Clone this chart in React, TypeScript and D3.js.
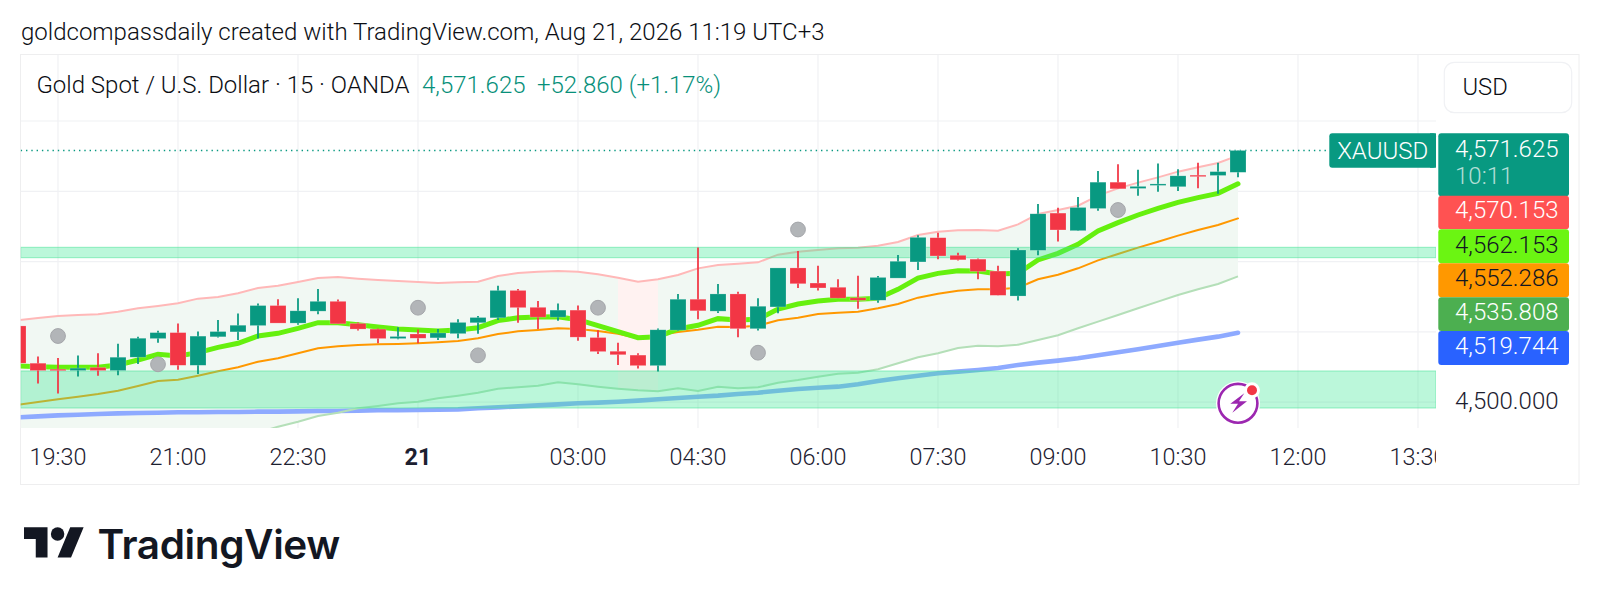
import React from "react";
import * as d3 from "d3";

const opens = [4521.7,4511.1,4509.4,4509.0,4509.9,4509.0,4512.8,4518.1,4519.8,4510.5,4518.6,4520.0,4521.8,4527.5,4522.5,4525.9,4528.7,4522.4,4520.8,4518.1,4519.4,4518.3,4519.5,4522.6,4524.0,4531.8,4527.0,4524.2,4526.2,4518.4,4514.5,4513.4,4510.4,4520.5,4529.3,4525.9,4530.8,4520.9,4527.1,4538.2,4533.9,4532.7,4529.7,4529.0,4535.3,4539.9,4546.8,4541.8,4540.7,4537.3,4530.2,4543.2,4553.8,4548.8,4555.1,4562.6,4560.8,4561.7,4561.3,4564.6,4564.5,4565.4];
const highs = [4521.7,4513.0,4512.6,4513.3,4513.9,4516.6,4518.6,4520.3,4522.4,4520.1,4523.4,4525.2,4528.1,4529.3,4529.6,4532.2,4529.2,4522.7,4521.0,4521.3,4520.7,4520.8,4523.6,4524.5,4533.1,4532.2,4528.8,4528.1,4527.5,4520.5,4516.9,4513.9,4521.0,4530.8,4544.0,4533.6,4531.4,4529.6,4538.2,4543.0,4538.8,4535.0,4536.0,4535.9,4541.9,4547.5,4548.2,4542.5,4540.9,4538.8,4543.8,4556.4,4555.3,4558.4,4565.8,4567.7,4566.1,4567.9,4566.3,4568.1,4568.1,4571.625];
const lows = [4511.1,4505.3,4502.5,4507.3,4507.5,4507.7,4510.9,4516.9,4509.2,4508.0,4518.4,4517.7,4518.1,4522.5,4522.0,4525.0,4522.3,4520.4,4516.8,4517.9,4516.8,4517.7,4518.2,4519.5,4523.4,4522.6,4520.8,4523.2,4517.5,4513.7,4510.6,4509.6,4508.7,4520.3,4523.6,4525.4,4518.5,4520.4,4525.3,4532.5,4531.8,4529.6,4526.6,4528.3,4535.3,4537.6,4540.7,4540.3,4535.0,4530.4,4528.9,4541.8,4545.7,4548.8,4554.5,4560.7,4558.7,4559.9,4560.1,4560.9,4559.3,4564.0];
const closes = [4511.1,4509.0,4509.0,4509.7,4509.0,4512.8,4518.2,4519.8,4510.5,4518.8,4520.1,4521.9,4527.5,4522.5,4526.0,4528.7,4522.3,4520.8,4518.1,4518.7,4518.2,4519.7,4522.7,4524.1,4531.8,4526.9,4524.2,4526.2,4518.5,4514.4,4513.5,4510.4,4520.6,4529.3,4526.0,4530.8,4520.9,4527.3,4538.2,4533.7,4532.5,4529.6,4529.0,4535.5,4540.1,4546.9,4541.6,4540.5,4537.2,4530.4,4543.3,4553.6,4549.0,4555.4,4562.6,4560.7,4561.4,4562.1,4564.4,4564.2,4565.6,4571.625];

const upperBand = [4523.29,4523.95,4524.52,4524.81,4525.00,4525.76,4526.70,4527.37,4528.13,4529.46,4529.93,4530.97,4532.49,4533.15,4534.20,4535.33,4535.62,4535.14,4534.77,4534.48,4534.20,4533.91,4534.10,4534.29,4535.90,4536.76,4537.14,4537.33,4537.14,4536.38,4535.43,4534.29,4534.96,4536.19,4538.08,4539.03,4539.41,4539.79,4541.97,4542.83,4543.30,4543.78,4543.97,4544.53,4545.58,4547.57,4548.52,4548.90,4548.99,4548.80,4550.60,4553.54,4554.68,4555.91,4558.76,4560.84,4562.46,4563.97,4565.59,4566.82,4568.05,4570.153];
const fastLine = [4510.30,4510.11,4509.92,4509.92,4509.92,4510.58,4512.01,4513.62,4513.14,4514.09,4515.61,4516.75,4518.83,4519.59,4521.02,4522.63,4522.63,4522.06,4521.39,4520.83,4520.54,4520.26,4520.54,4521.20,4523.20,4524.05,4524.24,4524.33,4523.48,4521.77,4520.07,4518.36,4518.64,4520.83,4521.87,4523.77,4523.39,4523.58,4526.52,4527.94,4528.79,4529.27,4529.27,4529.55,4532.11,4535.34,4536.66,4537.42,4537.33,4536.47,4536.66,4540.46,4542.35,4544.91,4548.71,4551.08,4553.26,4555.15,4556.86,4558.19,4559.42,4562.153];
const midLine = [4499.30,4500.06,4500.82,4501.57,4502.33,4503.28,4504.61,4506.03,4506.41,4507.55,4508.78,4509.92,4511.53,4512.48,4513.90,4515.33,4515.89,4516.27,4516.46,4516.56,4516.75,4517.03,4517.41,4518.17,4519.40,4520.16,4520.54,4521.02,4520.83,4520.26,4519.50,4518.17,4519.02,4519.97,4520.64,4521.49,4521.39,4521.77,4523.29,4524.05,4525.09,4525.47,4525.76,4526.71,4527.94,4529.74,4530.88,4531.73,4532.11,4532.11,4532.59,4534.96,4536.28,4538.09,4540.36,4542.16,4543.97,4545.67,4547.38,4548.99,4550.41,4552.286];
const lowerBand = [4474,4475,4476,4477,4478,4479,4481,4482.5,4484,4485.5,4487,4489,4491.33,4493.04,4494.46,4496.07,4497.02,4498.26,4498.92,4499.68,4500.15,4501.10,4501.86,4502.71,4503.85,4504.23,4504.70,4505.65,4505.08,4504.42,4503.85,4503.38,4503.09,4503.95,4503.19,4504.42,4503.95,4504.23,4505.56,4506.32,4507.27,4508.12,4508.41,4509.36,4511.06,4512.77,4513.91,4515.42,4516.09,4515.90,4516.37,4517.70,4519.03,4521.02,4522.92,4524.81,4526.71,4528.60,4530.50,4532.11,4533.63,4535.808];
const slowLine = [4495.70,4495.98,4496.26,4496.45,4496.64,4496.83,4496.93,4497.02,4497.12,4497.12,4497.21,4497.21,4497.31,4497.31,4497.40,4497.50,4497.50,4497.59,4497.69,4497.69,4497.78,4497.88,4497.97,4498.26,4498.54,4498.82,4499.11,4499.39,4499.68,4499.87,4500.15,4500.44,4500.82,4501.20,4501.57,4501.86,4502.33,4502.71,4503.28,4503.76,4504.1,4504.42,4505.09,4506.04,4506.79,4507.55,4508.22,4508.69,4509.17,4509.73,4510.59,4511.25,4511.82,4512.48,4513.34,4514.19,4515.04,4515.99,4516.94,4517.80,4518.65,4519.744];

const highlightBars = [30, 31, 32];
const signalBars = [2, 7, 20, 23, 29, 37, 39, 55];
const signalPrices = [4518.83, 4510.78, 4526.88, 4513.34, 4526.88, 4514.08, 4549.13, 4554.68];

const timeBars = [2, 8, 14, 20, 28, 34, 40, 46, 52, 58, 64, 70];
const timeLabels = ["19:30", "21:00", "22:30", "21", "03:00", "04:30", "06:00", "07:30", "09:00", "10:30", "12:00", "13:30"];
const priceTicks = [4580, 4560, 4540, 4520, 4500];
const zoneTops = [4544.07, 4508.88];
const zoneBottoms = [4541.11, 4498.35];

const lastPrice = 4571.625;
const labelTexts = ["4,570.153", "4,562.153", "4,552.286", "4,535.808", "4,519.744"];

const FONT = "Roboto, sans-serif";
const UP = "#089981";
const DOWN = "#f23645";
const GRID = "#f0f1f4";

const PANE_L = 20.7;
const PANE_R = 1436;
const PANE_T = 54.7;
const PANE_B = 428;

export default function App() {
  const indices = d3.range(opens.length);
  const x = d3.scaleLinear().domain([0, 61]).range([18, 1238]);
  const y = d3.scaleLinear().domain([4580, 4500]).range([121, 402.2]);
  const lineOf = (vals: number[]) =>
    d3.line<number>().x((_, i) => x(i)).y((v) => y(v))(vals) ?? "";
  const band = d3
    .area<number>()
    .x((i) => x(i))
    .y0((i) => y(lowerBand[i]))
    .y1((i) => y(upperBand[i]));

  const labelRows = [
    { top: 195.7, bottom: 229.3, fill: "#ff5252", color: "#fff", text: labelTexts[0], cy: 209.6 },
    { top: 229.3, bottom: 263.3, fill: "#6bf512", color: "#131722", text: labelTexts[1], cy: 245 },
    { top: 263.3, bottom: 297.3, fill: "#ff9800", color: "#131722", text: labelTexts[2], cy: 278 },
    { top: 297.3, bottom: 331, fill: "#4caf50", color: "#fff", text: labelTexts[3], cy: 312 },
    { top: 331, bottom: 365, fill: "#2962ff", color: "#fff", text: labelTexts[4], cy: 345.5 },
  ];

  return (
    <svg
      width={1600}
      height={604}
      viewBox="0 0 1600 604"
      style={{ position: "absolute", left: 0, top: 0, background: "#fff", fontFamily: FONT, fontWeight: 300 }}
    >
      <defs>
        <clipPath id="pane">
          <rect x={PANE_L} y={PANE_T} width={PANE_R - PANE_L} height={PANE_B - PANE_T} />
        </clipPath>
        <clipPath id="timeClip">
          <rect x={PANE_L} y={430} width={PANE_R - PANE_L} height={54} />
        </clipPath>
      </defs>

      <text x={21} y={31.5} dominantBaseline="central" fontSize={24} fill="#0b0e14">
        goldcompassdaily created with TradingView.com, Aug 21, 2026 11:19 UTC+3
      </text>

      <rect x={20.5} y={54.5} width={1558.5} height={430} fill="#fff" stroke="#eeeeef" strokeWidth={1} />

      <g stroke={GRID} strokeWidth={1.2}>
        {priceTicks.map((p) => (
          <line key={p} x1={PANE_L} x2={PANE_R} y1={y(p)} y2={y(p)} />
        ))}
        {timeBars.map((b) => (
          <line key={b} x1={x(b)} x2={x(b)} y1={PANE_T} y2={PANE_B} />
        ))}
      </g>

      <g clipPath="url(#pane)">
        <path d={band(indices) ?? ""} fill="#f1f8f3" />
        <path d={band(highlightBars) ?? ""} fill="#fff2f1" />
        <path d={lineOf(slowLine)} fill="none" stroke="#8eaaff" strokeWidth={4.6} strokeLinecap="round" />
        <path d={lineOf(lowerBand)} fill="none" stroke="#b4dfb8" strokeWidth={2} />
        <path d={lineOf(upperBand)} fill="none" stroke="#ffb8b8" strokeWidth={2} />
        <path d={lineOf(midLine)} fill="none" stroke="#ff9800" strokeWidth={2} strokeLinecap="round" />
        <path d={lineOf(fastLine)} fill="none" stroke="#66f00e" strokeWidth={5} strokeLinecap="round" />

        {zoneTops.map((t, i) => (
          <rect
            key={t}
            x={PANE_L}
            y={y(t)}
            width={PANE_R - PANE_L}
            height={y(zoneBottoms[i]) - y(t)}
            fill="rgba(60,232,150,0.35)"
            stroke="rgba(70,225,150,0.55)"
            strokeWidth={1}
          />
        ))}

        <line
          x1={PANE_L}
          x2={1329}
          y1={y(lastPrice)}
          y2={y(lastPrice)}
          stroke={UP}
          strokeWidth={1.4}
          strokeDasharray="1.4 3.9"
        />

        {indices.map((i) => {
          const up = closes[i] >= opens[i];
          const c = up ? UP : DOWN;
          const top = y(Math.max(opens[i], closes[i]));
          const bot = y(Math.min(opens[i], closes[i]));
          return (
            <g key={i}>
              <line x1={x(i)} x2={x(i)} y1={y(highs[i])} y2={y(lows[i])} stroke={c} strokeWidth={1.9} opacity={0.92} />
              <rect x={x(i) - 8} y={top} width={16} height={Math.max(bot - top, 1.5)} fill={c} stroke="#ffffff" strokeOpacity={0.35} strokeWidth={0.6} />
            </g>
          );
        })}

        {signalBars.map((b, i) => (
          <circle key={b} cx={x(b)} cy={y(signalPrices[i])} r={7.4} fill="#b2b5b8" stroke="#a4a6aa" strokeWidth={1} />
        ))}

        <g transform={`translate(${x(61)},403.3)`}>
          <circle r={22} fill="#fff" />
          <circle r={19.4} fill="#fff" stroke="#9c27b0" strokeWidth={2.6} />
          <path d="M6.3,-10 L-7.7,0.4 L0,0.4 L-5.7,9.4 L9,-2 L1,-2 Z" fill="#9c27b0" />
          <circle cx={14} cy={-13} r={8} fill="#fff" />
          <circle cx={14} cy={-13} r={5} fill="#f23645" />
        </g>
      </g>

      <text x={36.4} y={85} dominantBaseline="central" fontSize={24} fill="#0b0e14">
        Gold Spot / U.S. Dollar · 15 · OANDA
      </text>
      <text x={422} y={85} dominantBaseline="central" fontSize={24} fill="#07907a">
        4,571.625
      </text>
      <text x={537} y={85} dominantBaseline="central" fontSize={24} fill="#07907a">
        +52.860 (+1.17%)
      </text>

      <rect x={1444.3} y={62.3} width={127.4} height={50.4} rx={10} fill="#fff" stroke="#f0f1f4" strokeWidth={1.2} />
      <text x={1462.4} y={87} dominantBaseline="central" fontSize={23.8} fill="#0b0e14">
        USD
      </text>

      <rect x={1329.3} y={133.3} width={106.7} height={34.4} rx={3} fill={UP} />
      <rect x={1430} y={133.3} width={6} height={34.4} fill={UP} />
      <text x={1382.7} y={151} textAnchor="middle" dominantBaseline="central" fontSize={24} fill="#fff">
        XAUUSD
      </text>

      <rect x={1438.3} y={133.3} width={130.7} height={63} rx={3} fill={UP} />
      <text x={1455} y={148.6} dominantBaseline="central" fontSize={24} fill="#fff">
        4,571.625
      </text>
      <text x={1455} y={176} dominantBaseline="central" fontSize={24} fill="#fff" fillOpacity={0.7}>
        10:11
      </text>

      {labelRows.map((r) => (
        <g key={r.text}>
          <rect x={1438.3} y={r.top} width={130.7} height={r.bottom - r.top} rx={3} fill={r.fill} />
          <text x={1455} y={r.cy} dominantBaseline="central" fontSize={24} fill={r.color}>
            {r.text}
          </text>
        </g>
      ))}

      <text x={1455} y={400.7} dominantBaseline="central" fontSize={24} fill="#1c2030">
        4,500.000
      </text>

      <g clipPath="url(#timeClip)">
        {timeBars.map((b, i) => (
          <text
            key={b}
            x={x(b)}
            y={457}
            textAnchor="middle"
            dominantBaseline="central"
            fontSize={23.4}
            fontWeight={timeLabels[i] === "21" ? 700 : 300}
            fill="#1c2030"
          >
            {timeLabels[i]}
          </text>
        ))}
      </g>

      <g transform="translate(24,520.5) scale(1.68)" fill="#131722">
        <path d="M14 22H7V11H0V4h14v18zM28 22h-8l7.5-18h8L28 22z" />
        <circle cx={20} cy={8} r={4} />
      </g>
      <text x={97.5} y={544.3} fontFamily="Inter, sans-serif" fontSize={40.5} fontWeight={600} fill="#131722" dominantBaseline="central" letterSpacing={-0.4}>
        TradingView
      </text>
    </svg>
  );
}
